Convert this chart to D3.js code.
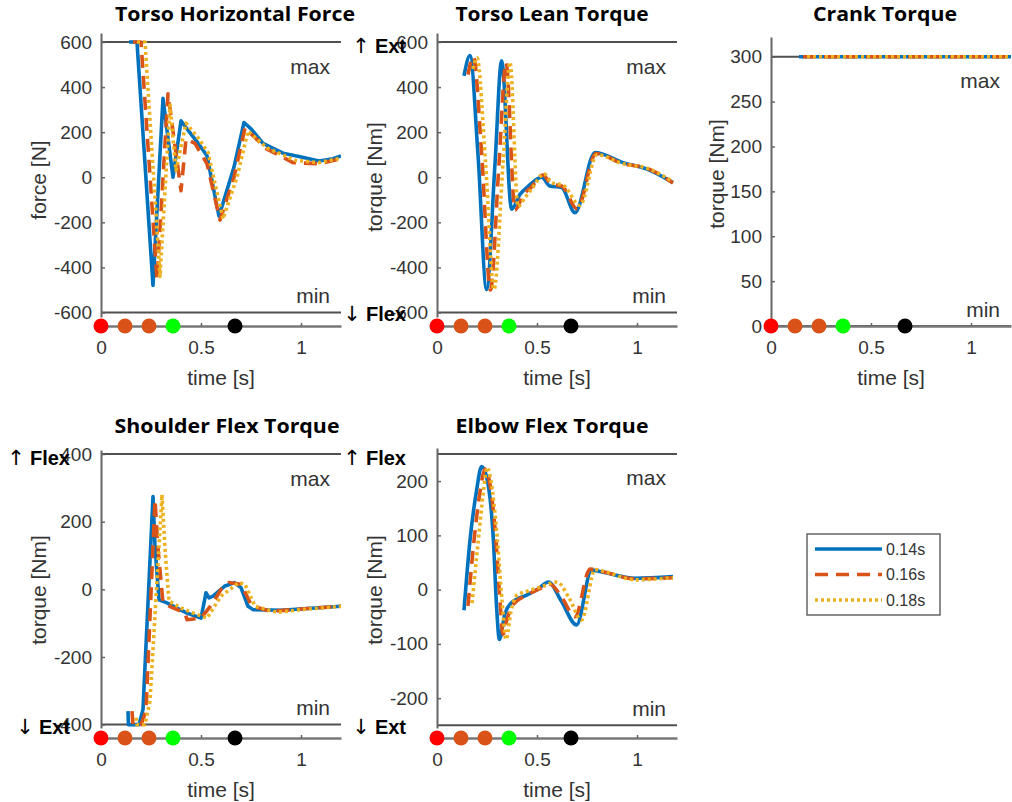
<!DOCTYPE html>
<html><head><meta charset="utf-8">
<script src="https://cdn.jsdelivr.net/npm/d3@7"></script>
<style>body{margin:0;background:#fff}svg{display:block}</style>
</head><body>
<svg id="c" width="1012" height="802"></svg>
<script>
// ---------- data ----------
const seriesNames = ["0.14s", "0.16s", "0.18s"];
const seriesColors = ["#0072BD", "#D95319", "#EDB120"];
const eventTimes = [0, 0.12, 0.24, 0.36, 0.67];
const eventColors = ["#FF0000", "#D95319", "#D95319", "#00FF00", "#000000"];
const xTicks = [0, 0.5, 1];
const xTickLabels = ["0", "0.5", "1"];

// Torso Horizontal Force [N]
const thf14 = [[0.14,600],[0.18,600],[0.26,-480],[0.31,350],[0.36,0],[0.40,250],[0.43,215],[0.495,140],[0.53,95],[0.59,-173],[0.665,45],[0.715,243],[0.75,215],[0.81,150],[0.91,107],[0.99,92],[1.09,72],[1.16,82],[1.2,95]];
const thf16 = [[0.16,600],[0.20,600],[0.28,-455],[0.335,370],[0.40,-60],[0.425,170],[0.47,150],[0.53,60],[0.595,-190],[0.665,0],[0.72,218],[0.83,125],[0.96,65],[1.09,60],[1.2,82]];
const thf18 = [[0.18,600],[0.22,600],[0.295,-440],[0.345,320],[0.375,30],[0.425,240],[0.49,170],[0.535,110],[0.61,-185],[0.68,0],[0.735,205],[0.83,130],[0.97,75],[1.09,65],[1.2,85]];

// Torso Lean Torque [Nm]
const tlt14 = [[0.135,450],[0.165,540],[0.205,100],[0.248,-498],[0.29,60],[0.323,517],[0.373,-142],[0.415,-76],[0.457,-39],[0.523,0],[0.565,-39],[0.623,-45],[0.69,-157],[0.79,110],[0.93,65],[1.05,36],[1.18,-24]];
const tlt16 = [[0.155,455],[0.182,535],[0.225,80],[0.267,-500],[0.31,60],[0.345,510],[0.39,-145],[0.43,-80],[0.47,-45],[0.53,10],[0.57,-30],[0.625,-40],[0.70,-140],[0.795,105],[0.93,60],[1.05,40],[1.18,-25]];
const tlt18 = [[0.18,480],[0.20,530],[0.243,60],[0.285,-498],[0.33,60],[0.365,510],[0.405,-130],[0.44,-90],[0.475,-50],[0.535,15],[0.575,-25],[0.63,-35],[0.715,-125],[0.80,100],[0.93,60],[1.05,40],[1.18,-20]];

// Crank Torque [Nm]
const crank14 = [[0.14,300],[1.2,300]];
const crank16 = [[0.16,300],[1.2,300]];
const crank18 = [[0.18,300],[1.2,300]];

// Shoulder Flex Torque [Nm]
const sft14 = [[0.135,-360],[0.137,-400],[0.19,-400],[0.21,-355],[0.26,274],[0.27,126],[0.29,-31],[0.33,-40],[0.395,-60],[0.43,-70],[0.50,-85],[0.515,-40],[0.525,-10],[0.54,-25],[0.56,-20],[0.62,10],[0.667,20],[0.70,5],[0.735,-50],[0.76,-60],[0.90,-62],[1.07,-55],[1.2,-50]];
const sft16 = [[0.155,-360],[0.16,-400],[0.20,-400],[0.225,-360],[0.27,265],[0.285,120],[0.31,-40],[0.36,-55],[0.42,-70],[0.43,-90],[0.50,-85],[0.56,-40],[0.60,0],[0.64,20],[0.70,15],[0.755,-50],[0.85,-65],[1.0,-58],[1.2,-50]];
const sft18 = [[0.175,-380],[0.18,-400],[0.22,-400],[0.245,-330],[0.305,280],[0.32,120],[0.34,-35],[0.40,-55],[0.46,-70],[0.53,-85],[0.60,-20],[0.69,20],[0.72,15],[0.77,-50],[0.88,-68],[1.0,-60],[1.2,-50]];

// Elbow Flex Torque [Nm]
const eft14 = [[0.135,-38],[0.165,91],[0.198,183],[0.223,227],[0.248,208],[0.282,91],[0.298,-32],[0.312,-92],[0.34,-44],[0.37,-25],[0.448,-10],[0.50,0],[0.558,14],[0.62,-20],[0.698,-65],[0.773,36],[0.82,33],[0.99,21],[1.18,24]];
const eft16 = [[0.155,-30],[0.185,90],[0.215,180],[0.24,222],[0.262,200],[0.295,90],[0.315,-20],[0.33,-82],[0.35,-55],[0.38,-28],[0.45,-10],[0.52,3],[0.565,10],[0.625,-15],[0.69,-50],[0.765,38],[0.83,33],[0.99,20],[1.18,22]];
const eft18 = [[0.175,-25],[0.205,85],[0.232,180],[0.25,225],[0.27,200],[0.30,100],[0.325,-20],[0.345,-92],[0.37,-40],[0.40,-10],[0.45,-3],[0.52,5],[0.60,14],[0.66,-15],[0.723,-56],[0.79,37],[0.85,32],[0.99,18],[1.18,22]];

const ticksForce = [-600,-400,-200,0,200,400,600];
const ticksCrank = [0,50,100,150,200,250,300];
const ticksShoulder = [-400,-200,0,200,400];
const ticksElbow = [-200,-100,0,100,200];

// ---------- layout ----------
const panels = [
  {title:"Torso Horizontal Force", tx:235, tw:240, ty:21, left:101, yDom:[-620,640], yRange:[317,33], ticks:ticksForce, maxV:600, minV:-600, tl:326, ylabel:"force [N]", ylx:38, yly:180, series:[thf14,thf16,thf18], curve:d3.curveLinear, up:null, down:null},
  {title:"Torso Lean Torque", tx:552, tw:193, ty:21, left:437, yDom:[-620,640], yRange:[317,33], ticks:ticksForce, maxV:600, minV:-600, tl:326, ylabel:"torque [Nm]", ylx:374, yly:177, series:[tlt14,tlt16,tlt18], curve:d3.curveMonotoneX, up:["\u2191","Ext"], down:["\u2193","Flex"]},
  {title:"Crank Torque", tx:885, tw:144, ty:21, left:771, yDom:[0,322], yRange:[326,37], ticks:ticksCrank, maxV:300, minV:0, tl:326, ylabel:"torque [Nm]", ylx:716, yly:174, series:[crank14,crank16,crank18], curve:d3.curveLinear, up:null, down:null},
  {title:"Shoulder Flex Torque", tx:227, tw:225, ty:433, left:101, yDom:[-410,412], yRange:[728,450], ticks:ticksShoulder, maxV:400, minV:-400, tl:738, ylabel:"torque [Nm]", ylx:38, yly:590, series:[sft14,sft16,sft18], curve:d3.curveLinear, up:["\u2191","Flex"], down:["\u2193","Ext"]},
  {title:"Elbow Flex Torque", tx:552, tw:193, ty:433, left:437, yDom:[-255,261], yRange:[728,448], ticks:ticksElbow, maxV:250, minV:-250, tl:738, ylabel:"torque [Nm]", ylx:374, yly:590, series:[eft14,eft16,eft18], curve:d3.curveMonotoneX, up:["\u2191","Flex"], down:["\u2193","Ext"]}
];

const FONT = "'Liberation Sans', Arial, Helvetica, sans-serif";
const TXT = "#333";
const lineStyles = [
  {dash:null, width:3.6},
  {dash:"13,8", width:3.6},
  {dash:"3,3", width:3.6}
];

const svg = d3.select("#c");
const defs = svg.append("defs");

function dirLabel(g, xr, yc, parts) {
  const t = g.append("text").attr("x", xr).attr("y", yc).attr("text-anchor", "end")
    .attr("dominant-baseline", "central").attr("fill", "#000");
  t.append("tspan").attr("font-family", "'DejaVu Sans', sans-serif").attr("font-size", 21)
    .attr("font-weight", "normal").text(parts[0]);
  t.append("tspan").attr("font-family", FONT).attr("font-size", 20).attr("font-weight", "bold")
    .attr("dx", 5).text(parts[1]);
}

panels.forEach((p, i) => {
  const x = d3.scaleLinear().domain([0, 1.2]).range([p.left, p.left + 240]);
  const y = d3.scaleLinear().domain(p.yDom).range(p.yRange);
  const g = svg.append("g");

  defs.append("clipPath").attr("id", "clip" + i).append("rect")
    .attr("x", x(0)).attr("y", y(p.yDom[1]))
    .attr("width", x(1.2) - x(0)).attr("height", y(p.yDom[0]) - y(p.yDom[1]));

  // title
  g.append("text").attr("x", p.tx).attr("y", p.ty).attr("text-anchor", "middle")
    .attr("font-family", "'Open Sans', 'Liberation Sans', Arial, sans-serif").attr("font-weight", "bold")
    .attr("font-size", 19).attr("fill", "#000")
    .attr("textLength", p.tw).attr("lengthAdjust", "spacingAndGlyphs").text(p.title);

  // max / min lines
  [p.maxV, p.minV].forEach(v => {
    g.append("line").attr("x1", x(0)).attr("x2", x(1.2)).attr("y1", y(v)).attr("y2", y(v))
      .attr("stroke", "#505050").attr("stroke-width", 2);
  });

  // y axis
  const ya = g.append("g").attr("transform", `translate(${x(0)},0)`)
    .call(d3.axisLeft(y).tickValues(p.ticks).tickFormat(d => String(d))
      .tickSizeInner(-4).tickSizeOuter(0).tickPadding(9));
  ya.select(".domain").attr("stroke", "#666").attr("stroke-width", 2);
  ya.selectAll(".tick line").attr("stroke", "#666").attr("stroke-width", 1.5);
  ya.selectAll(".tick text").attr("font-family", FONT).attr("font-size", 19).attr("fill", TXT);

  // timeline (x axis)
  const xa = g.append("g").attr("transform", `translate(0,${p.tl})`)
    .call(d3.axisBottom(x).tickValues(xTicks).tickFormat((d, k) => xTickLabels[k])
      .tickSizeInner(-3).tickSizeOuter(0).tickPadding(15));
  xa.select(".domain").attr("stroke", "#777").attr("stroke-width", 2.5);
  xa.selectAll(".tick line").attr("stroke", "#666").attr("stroke-width", 1.5);
  xa.selectAll(".tick text").attr("font-family", FONT).attr("font-size", 19).attr("fill", TXT);

  // x label
  g.append("text").attr("x", x(0.6)).attr("y", p.tl + 51).attr("text-anchor", "middle")
    .attr("dominant-baseline", "central").attr("font-family", FONT).attr("font-size", 21)
    .attr("fill", TXT).text("time [s]");

  // y label
  g.append("text").attr("transform", `translate(${p.ylx},${p.yly}) rotate(-90)`)
    .attr("text-anchor", "middle").attr("dominant-baseline", "central")
    .attr("font-family", FONT).attr("font-size", 21).attr("fill", TXT).text(p.ylabel);

  // max / min text
  g.append("text").attr("x", x(1.2) - 11).attr("y", y(p.maxV) + 24).attr("text-anchor", "end")
    .attr("dominant-baseline", "central").attr("font-family", FONT).attr("font-size", 21)
    .attr("fill", TXT).text("max");
  g.append("text").attr("x", x(1.2) - 11).attr("y", y(p.minV) - 17).attr("text-anchor", "end")
    .attr("dominant-baseline", "central").attr("font-family", FONT).attr("font-size", 21)
    .attr("fill", TXT).text("min");

  // data lines
  const lg = g.append("g").attr("clip-path", `url(#clip${i})`);
  const line = d3.line().x(d => x(d[0])).y(d => y(d[1])).curve(p.curve);
  p.series.forEach((s, k) => {
    lg.append("path").datum(s).attr("d", line).attr("fill", "none")
      .attr("stroke", seriesColors[k]).attr("stroke-width", lineStyles[k].width)
      .attr("stroke-dasharray", lineStyles[k].dash).attr("stroke-linejoin", "round");
  });

  // event dots
  g.selectAll("circle.ev").data(eventTimes).join("circle").attr("class", "ev")
    .attr("cx", d => x(d)).attr("cy", p.tl).attr("r", 7.5)
    .attr("fill", (d, k) => eventColors[k]);

  // direction labels
  if (p.up) {
    dirLabel(g, p.left - 31, y(p.maxV) + 4, p.up);
    dirLabel(g, p.left - 31, y(p.minV) + 2, p.down);
  }
});

// ---------- legend ----------
const lgd = svg.append("g");
lgd.append("rect").attr("x", 807).attr("y", 534).attr("width", 133).attr("height", 81)
  .attr("fill", "#fff").attr("stroke", "#666").attr("stroke-width", 1.5);
seriesNames.forEach((n, k) => {
  const yy = 549 + k * 25.5;
  lgd.append("line").attr("x1", 815).attr("x2", 882).attr("y1", yy).attr("y2", yy)
    .attr("stroke", seriesColors[k]).attr("stroke-width", lineStyles[k].width)
    .attr("stroke-dasharray", lineStyles[k].dash);
  lgd.append("text").attr("x", 886).attr("y", yy).attr("dominant-baseline", "central")
    .attr("font-family", FONT).attr("font-size", 16).attr("fill", TXT).text(n);
});
</script>
</body></html>
